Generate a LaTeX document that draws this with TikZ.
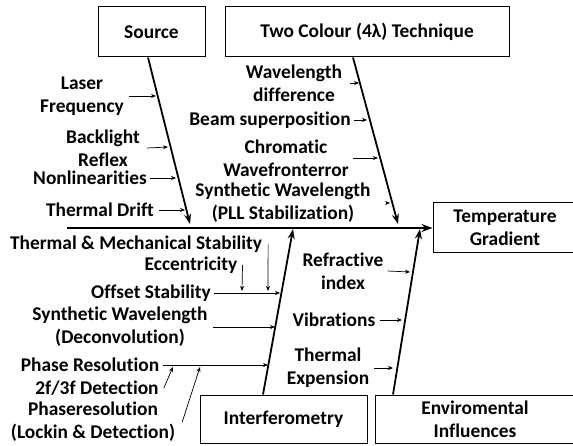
\documentclass[tikz,border=0pt]{standalone}
\usepackage{fontspec}
\setmainfont{Carlito}[Ligatures=CommonOff]
\usetikzlibrary{arrows.meta}

\begin{document}
\begin{tikzpicture}[
        x=1pt, y=-1pt,
        font=\fontsize{19.4}{23}\selectfont\bfseries,
        box/.style={
            draw,
            line width=1pt,
            inner sep=0pt,
            align=center
        },
        lbl/.style={
            align=center,
            inner sep=0pt
        },
        spine/.style={line width=2.2pt, -{Stealth[length=11pt,width=8pt]}},
        bone/.style={line width=1.8pt, -{Stealth[length=10pt,width=7pt]}},
        cause/.style={line width=0.7pt, -{Stealth[length=5pt,width=4pt]}}
    ]
        \useasboundingbox (0,0) rectangle (573,446);

        % Boxes
        \node[box, minimum width=107pt, minimum height=50pt] (src) at (151.5,32) {Source};
        \node[box, minimum width=284pt, minimum height=50pt] (twocol) at (367,32) {Two Colour (4λ) Technique};
        \node[box, minimum width=144pt, minimum height=50pt] (temp) at (505,228) {Temperature\\Gradient};
        \node[box, minimum width=167pt, minimum height=48pt] (interf) at (283.5,419) {Interferometry};
        \node[box, minimum width=200pt, minimum height=48pt] (env) at (475,419) {Enviromental\\Influences};

        % Spine
        \coordinate (tail) at (67,228);
        \draw[spine] (tail) -- (temp.west);

        % Bones
        \coordinate (src-end) at (190,224);
        \coordinate (tc-end) at (398,224);
        \coordinate (if-end) at (293,229);
        \coordinate (en-end) at (420,229);
        \draw[bone] ([xshift=-3.5pt]src.south) -- (src-end);
        \draw[bone] ([xshift=-14pt]twocol.south) -- (tc-end);
        \draw[bone] ([xshift=-20.5pt]interf.north) -- (if-end);
        \draw[bone] ([xshift=-82pt]env.north) -- (en-end);

        % Source causes
        \node[lbl] (laser) at (82,96) {Laser\\Frequency};
        \node[lbl] (backlight) at (103,148) {Backlight\\Reflex};
        \node[lbl] (nonlin) at (90,178) {Nonlinearities};
        \node[lbl] (tdrift) at (100,210) {Thermal Drift};
        \coordinate (laser-end) at (156,96);
        \coordinate (backlight-end) at (168,147);
        \coordinate (nonlin-end) at (176,178);
        \coordinate (tdrift-end) at (185,210);
        \draw[cause] ([xshift=5pt]laser.east) -- (laser-end);
        \draw[cause] ([xshift=7pt]backlight.east) -- (backlight-end);
        \draw[cause] ([xshift=3pt]nonlin.east) -- (nonlin-end);
        \draw[cause] ([xshift=5pt]tdrift.east) -- (tdrift-end);

        % Two colour causes
        \node[lbl] (wldiff) at (294,83) {Wavelength\\difference};
        \node[lbl] (beam) at (270,120) {Beam superposition};
        \node[lbl] (chrom) at (286,158) {Chromatic\\Wavefronterror};
        \node[lbl] (synpll) at (283,203) {Synthetic Wavelength\\(PLL Stabilization)};
        \coordinate (wldiff-end) at (359,83);
        \coordinate (beam-end) at (367,120);
        \coordinate (chrom-end) at (378,158);
        \coordinate (synpll-end) at (390,203);
        \draw[cause] ([xshift=8pt]wldiff.east) -- (wldiff-end);
        \draw[cause] ([xshift=3pt]beam.east) -- (beam-end);
        \draw[cause] ([xshift=4pt]chrom.east) -- (chrom-end);
        \draw[cause] ([xshift=15pt]synpll.east) -- (synpll-end);

        % Interferometry causes
        \node[lbl] (thermmech) at (136,244) {Thermal \& Mechanical Stability};
        \node[lbl] (ecc) at (191,265) {Eccentricity};
        \node[lbl] (offset) at (151,293) {Offset Stability};
        \node[lbl] (syndec) at (120,327) {Synthetic Wavelength\\(Deconvolution)};
        \node[lbl] (phres) at (90,365) {Phase Resolution};
        \node[lbl] (detect) at (97,388) {2f/3f Detection};
        \node[lbl] (lockin) at (93,422) {Phaseresolution\\(Lockin \& Detection)};
        \coordinate (thermmech-end) at (268,291);
        \coordinate (ecc-end) at (242,291);
        \coordinate (offset-end) at (280,293);
        \coordinate (syndec-end) at (275,327);
        \coordinate (phres-end) at (268,365);
        \coordinate (detect-end) at (173,367);
        \coordinate (lockin-end) at (200,367);
        \draw[cause] ([xshift=6pt]thermmech.east) -- (thermmech-end);
        \draw[cause] ([xshift=5pt]ecc.east) -- (ecc-end);
        \draw[cause] ([xshift=3pt]offset.east) -- (offset-end);
        \draw[cause] ([xshift=5pt]syndec.east) -- (syndec-end);
        \draw[cause] ([xshift=4pt]phres.east) -- (phres-end);
        \draw[cause] ([xshift=5pt]detect.east) -- (detect-end);
        \draw[cause] ([xshift=7pt]lockin.east) -- (lockin-end);

        % Environmental causes
        \node[lbl] (refr) at (343,271) {Refractive\\index};
        \node[lbl] (vibr) at (334,320) {Vibrations};
        \node[lbl] (texp) at (328,368) {Thermal\\Expension};
        \coordinate (refr-end) at (410,272);
        \coordinate (vibr-end) at (402,320);
        \coordinate (texp-end) at (393,368);
        \draw[cause] ([xshift=4pt]refr.east) -- (refr-end);
        \draw[cause] ([xshift=5pt]vibr.east) -- (vibr-end);
        \draw[cause] ([xshift=5pt]texp.east) -- (texp-end);

    \end{tikzpicture}
\end{document}
